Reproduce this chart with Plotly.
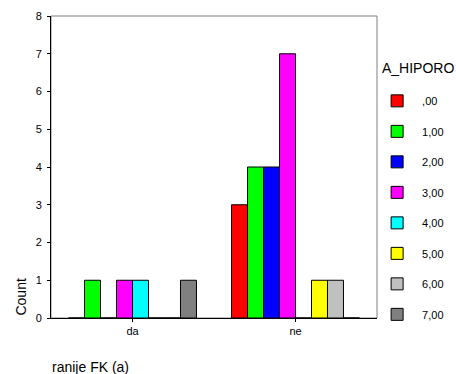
import plotly.graph_objects as go

categories = ["da", "ne"]
series_names = [",00", "1,00", "2,00", "3,00", "4,00", "5,00", "6,00", "7,00"]
series_values = [
    [0, 3],
    [1, 4],
    [0, 4],
    [1, 7],
    [1, 0],
    [0, 1],
    [0, 1],
    [1, 0],
]
series_colors = ["#FF0000", "#00FF00", "#0000FF", "#FF00FF",
                 "#00FFFF", "#FFFF00", "#C0C0C0", "#808080"]
y_ticks = [0, 1, 2, 3, 4, 5, 6, 7, 8]
legend_title = "A_HIPORO"

FONT = "Liberation Sans, Arial, sans-serif"

fig = go.Figure()
for name, vals, col in zip(series_names, series_values, series_colors):
    fig.add_trace(go.Bar(
        x=categories, y=vals, name=name, legendgroup=name,
        marker=dict(color=col, line=dict(color="#000000", width=1)),
    ))

fig.update_layout(
    width=456, height=374,
    margin=dict(l=51, r=79, t=16, b=56, autoexpand=False),
    paper_bgcolor="white", plot_bgcolor="white",
    barmode="group", bargap=0.215, bargroupgap=0,
    font=dict(family=FONT, size=11, color="#000000"),
    showlegend=True,
    legend=dict(
        x=0.985, xanchor="left", y=0.767, yanchor="top",
        traceorder="grouped", tracegroupgap=11.5, itemwidth=40,
        font=dict(size=11, family=FONT),
        bgcolor="rgba(0,0,0,0)",
    ),
    xaxis=dict(
        showline=True, linecolor="#000000", linewidth=1,
        ticks="outside", ticklen=3, tickcolor="#000000",
        showgrid=False, zeroline=False, automargin=False,
        tickfont=dict(size=11),
    ),
    yaxis=dict(
        range=[0, 8], tickvals=y_ticks,
        showline=True, linecolor="#000000", linewidth=1,
        ticks="outside", ticklen=3, tickcolor="#000000",
        showgrid=False, zeroline=False, automargin=False,
        ticklabelstandoff=3,
        tickfont=dict(size=11),
    ),
    shapes=[dict(type="rect", xref="paper", yref="paper", x0=0, x1=1, y0=0, y1=1,
                 line=dict(color="#808080", width=1), layer="below")],
    annotations=[
        dict(text=legend_title, xref="paper", yref="paper", x=1.009, y=0.827,
             xanchor="left", yanchor="middle", showarrow=False,
             font=dict(size=14, family=FONT)),
        dict(text="Count", xref="paper", yref="paper", x=-0.095, y=0,
             xanchor="center", yanchor="bottom", textangle=-90, showarrow=False,
             font=dict(size=14, family=FONT)),
        dict(text="ranije FK (a)", xref="paper", yref="paper", x=-0.003, y=-0.162,
             xanchor="left", yanchor="middle", showarrow=False,
             font=dict(size=14, family=FONT)),
    ],
)

fig.write_html(
    "out.html",
    config={"displayModeBar": False},
    post_script="document.body.style.margin='0';document.body.style.overflow='hidden';",
)
